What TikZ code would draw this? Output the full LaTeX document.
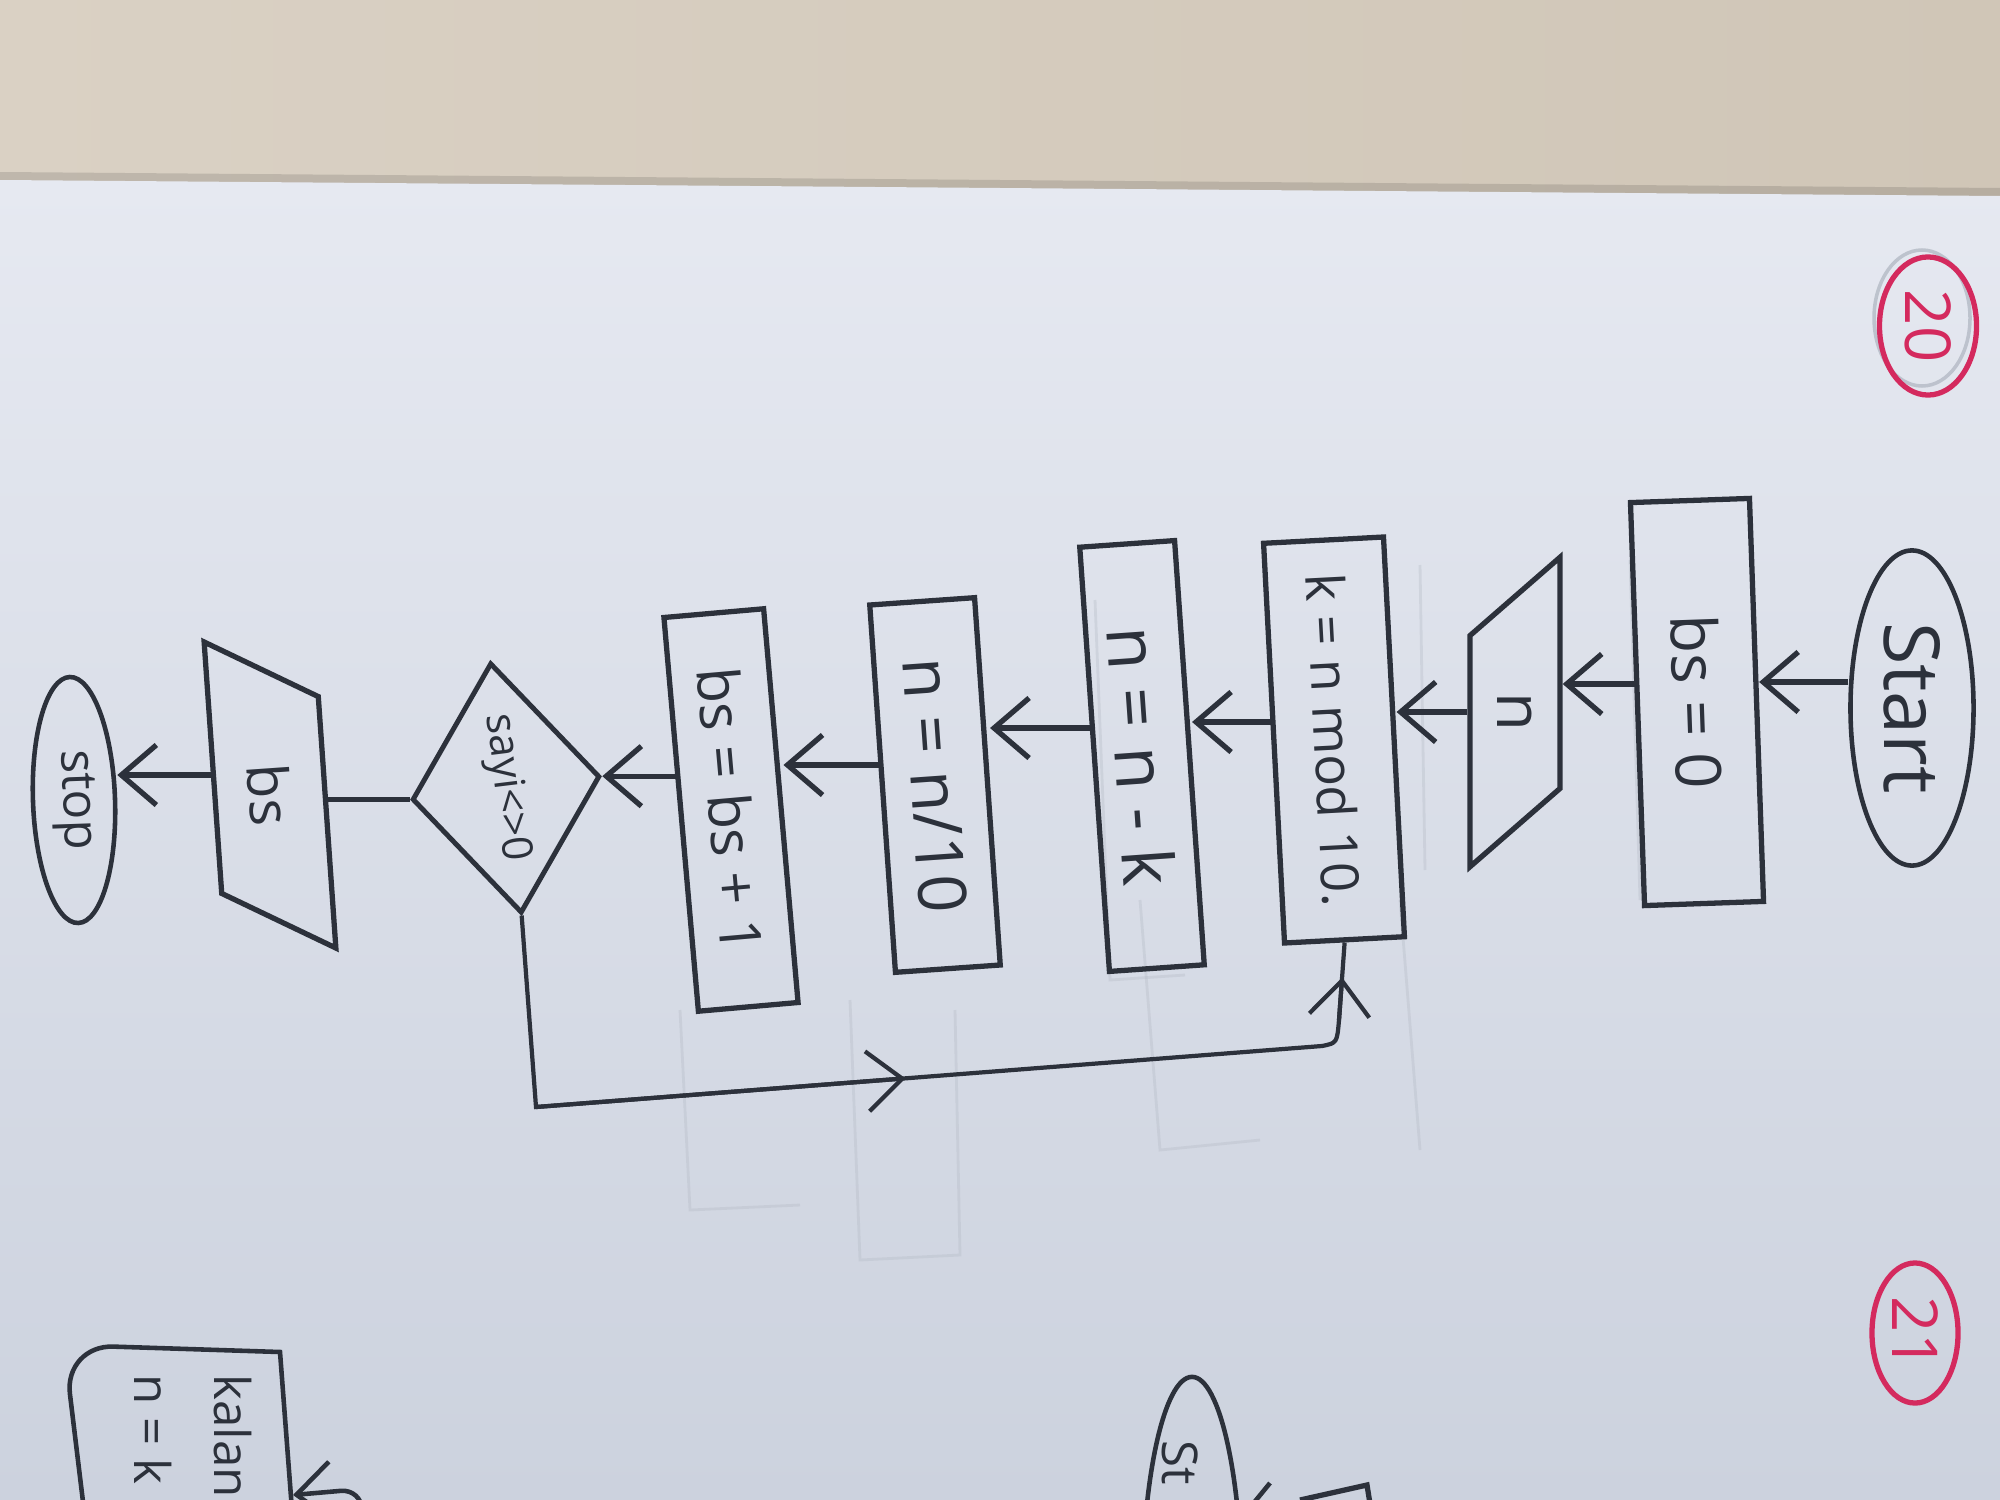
\documentclass[tikz,border=0pt]{standalone}
\usepackage{fontspec}
\setmainfont{Open Sans}
\usetikzlibrary{shapes.geometric,arrows.meta,calc}
\definecolor{ink}{HTML}{2C313B}
\definecolor{paperA}{HTML}{E6E9F1}
\definecolor{paperB}{HTML}{CCD2DE}
\definecolor{beigeA}{HTML}{DAD1C4}
\definecolor{beigeB}{HTML}{D0C6B7}
\definecolor{redink}{HTML}{D42A5E}
\definecolor{faint}{HTML}{B4BAC5}
\begin{document}
\begin{tikzpicture}[x=0.01cm,y=-0.01cm,
  box/.style={draw=ink, line width=1.5pt, rectangle, inner sep=0pt, text=ink, font=\fontsize{18}{20}\selectfont},
  term/.style={draw=ink, line width=1.3pt, ellipse, inner sep=0pt, text=ink, font=\fontsize{18}{20}\selectfont},
  io/.style={draw=ink, line width=1.5pt, trapezium, trapezium stretches=true, inner sep=0pt, text=ink, font=\fontsize{18}{20}\selectfont},
  dec/.style={draw=ink, line width=1.4pt, diamond, inner sep=0pt, text=ink},
  arr/.style={draw=ink, line width=1.5pt, -{Straight Barb[length=3.5mm,width=6mm]}},
  conn/.style={draw=ink, line width=1.5pt},
  lab/.style={text=ink, inner sep=0pt, font=\fontsize{14}{16}\selectfont},
  redc/.style={draw=redink, line width=1.5pt, ellipse, inner sep=0pt, text=redink, font=\fontsize{18}{20}\selectfont},
]
\useasboundingbox (0,0) rectangle (2000,1500);
\clip (0,0) rectangle (2000,1500);
% background: table and paper
\shade[left color=beigeA, right color=beigeB] (0,0) rectangle (2000,1500);
\fill[black, opacity=0.12] (0,172) -- (2000,188) -- (2000,200) -- (0,184) -- cycle;
\shade[top color=paperA, bottom color=paperB] (0,180) -- (2000,196) -- (2000,1500) -- (0,1500) -- cycle;
% faint erased pencil marks
\begin{scope}[faint, line width=0.8pt, opacity=0.35]
  \draw (1420,565) -- (1425,870);
  \draw (1630,560) -- (1640,900);
  \draw (1095,600) -- (1110,980) -- (1185,975);
  \draw (850,1000) -- (860,1260) -- (960,1255) -- (955,1010);
  \draw (680,1010) -- (690,1210) -- (800,1205);
  \draw (1140,900) -- (1160,1150) -- (1260,1140);
  \draw (1400,900) -- (1420,1150);
\end{scope}
% page numbers
\draw[faint, line width=1pt, opacity=0.8] (1922,318) ellipse (48 and 68);
\node[redc, rotate=-90, minimum width=1.38cm, minimum height=0.97cm] (p20) at (1928,326) {20};
\node[redc, rotate=-90, minimum width=1.40cm, minimum height=0.86cm] (p21) at (1915,1333) {21};
% main flowchart
\node[term, rotate=-90, minimum width=3.15cm, minimum height=1.23cm, font=\fontsize{22}{24}\selectfont] (start) at (1912,708) {Start};
\node[box, rotate=-88, minimum width=4.03cm, minimum height=1.19cm] (bs0) at (1697,702) {bs = 0};
\node[io, rotate=-90, trapezium left angle=120, trapezium right angle=60, minimum width=3.1cm, minimum height=0.9cm] (nin) at (1515,712) {n};
\node[box, rotate=-87, minimum width=4.0cm, minimum height=1.2cm, font=\fontsize{15}{17}\selectfont] (k) at (1334,740) {k = n mod 10.};
\node[box, rotate=-86, minimum width=4.25cm, minimum height=0.95cm, font=\fontsize{20}{22}\selectfont] (nk) at (1142,756) {n = n - k};
\node[box, rotate=-86, minimum width=3.68cm, minimum height=1.05cm, font=\fontsize{19}{21}\selectfont] (n10) at (935,785) {n = n/10};
\node[box, rotate=-85, minimum width=3.95cm, minimum height=1.0cm, font=\fontsize{16.5}{18}\selectfont] (bsb) at (731,810) {bs = bs + 1};
\node[dec, rotate=-83, minimum width=2.52cm, minimum height=1.89cm, font=\fontsize{12}{14}\selectfont] (dia) at (506,788) {sayi<>0};
\node[io, rotate=-86, trapezium left angle=65, trapezium right angle=115, minimum width=3.15cm, minimum height=1.1cm, font=\fontsize{16}{18}\selectfont] (out) at (270,795) {bs};
\node[term, rotate=-88, minimum width=2.46cm, minimum height=0.82cm, font=\fontsize{14}{16}\selectfont] (stop) at (74,800) {stop};
% connectors
\draw[arr] (start.south |- 0,682) -- (bs0.north |- 0,682);
\draw[arr] (bs0.south |- 0,684) -- (nin.north |- 0,684);
\draw[arr] (nin.south |- 0,712) -- (k.north |- 0,712);
\draw[arr] (k.south |- 0,722) -- (nk.north |- 0,722);
\draw[arr] (nk.south |- 0,728) -- (n10.north |- 0,728);
\draw[arr] (n10.south |- 0,765) -- (bsb.north |- 0,765);
\draw[arr] (bsb.south |- dia.north) -- (dia.north);
\draw[conn] (dia.south) -- (out.north |- dia.south);
\draw[arr] (out.south |- 0,775) -- (stop.north |- 0,775);
% loop back
\coordinate (la) at (536,1107);
\coordinate (lb) at (1322,1046);
\coordinate (lc) at (1339,1020);
\draw[conn, line width=1.2pt] (dia.east) -- (la) -- (lb) .. controls (1337,1043) .. (lc) -- (k.east);
\draw[arr, line width=1.2pt] (la) -- ($(la)!0.47!(lb)$);
\draw[arr, line width=1.2pt] (lc) -- ($(lc)!0.55!(k.east)$);
% partial second chart at the bottom
\draw[conn, line width=1.3pt] (84,1510) [rounded corners=14pt] -- (64,1345) [sharp corners] -- (280,1352) -- (292,1510);
\node[lab, rotate=-90, anchor=west] (kalan) at (233,1374) {kalan};
\node[lab, rotate=-90, anchor=west] (nk2) at (153,1374) {n = k};
\draw[arr, line width=1.3pt, rounded corners=6pt] (362,1510) -- (362,1489) -- (293,1495);
\node[term, rotate=-90, minimum width=4.5cm, minimum height=1.0cm] (start2) at (1192,1602) {};
\node[lab, rotate=-90, anchor=west] (st2) at (1180,1440) {St};
\draw[conn, line width=1.3pt] (1270,1483) -- (1252,1505);
\draw[conn, line width=1.5pt] (1300,1500) -- (1367,1485) -- (1371,1510);
\end{tikzpicture}
\end{document}
